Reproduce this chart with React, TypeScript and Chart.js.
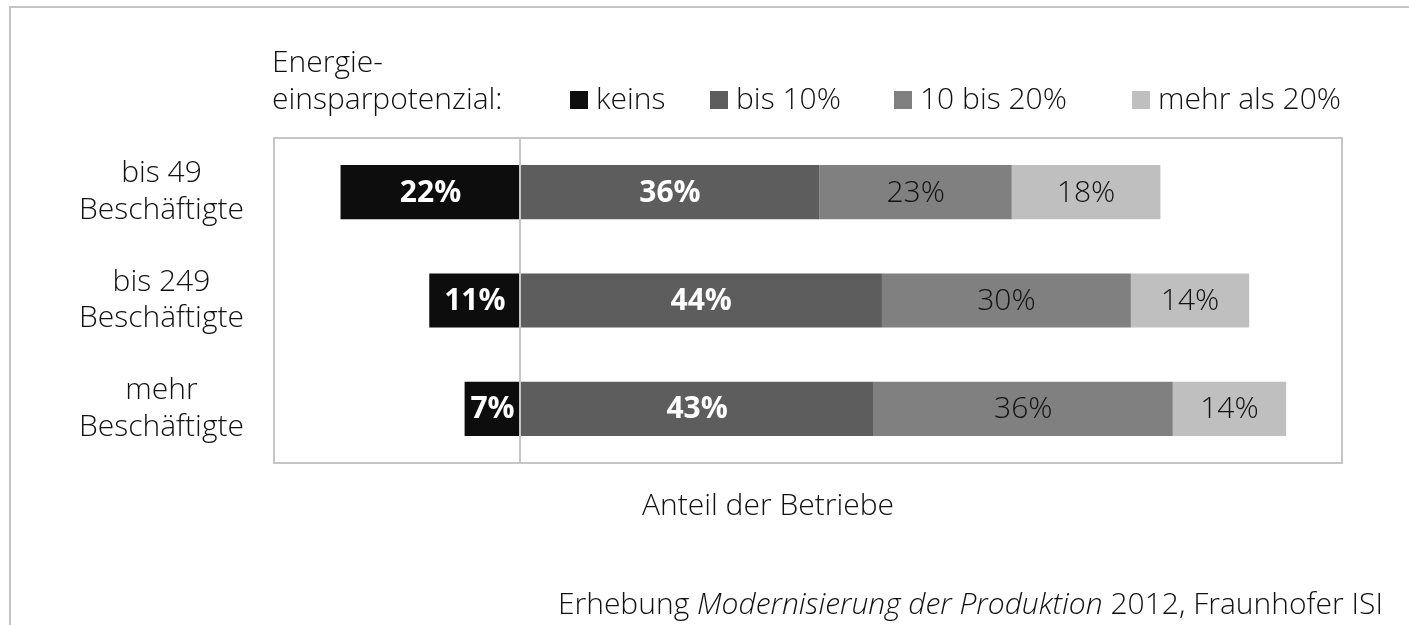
import React, { useEffect, useRef } from "react";
import { Chart, registerables } from "chart.js";

Chart.register(...registerables);

// ---- data ----
const categories: string[][] = [
  ["bis 49", "Beschäftigte"],
  ["bis 249", "Beschäftigte"],
  ["mehr", "Beschäftigte"],
];
const seriesNames = ["keins", "bis 10%", "10 bis 20%", "mehr als 20%"];
const keins = [21.9, 11.1, 6.8];
const bis10 = [36.4, 44.0, 43.0];
const bis20 = [23.4, 30.3, 36.4];
const mehr20 = [18.1, 14.4, 13.8];
const axisMin = -30;
const axisMax = 100;
const legendTitle = ["Energie-", "einsparpotenzial:"];
const xTitle = "Anteil der Betriebe";
const sourceParts = [
  { text: "Erhebung ", italic: false },
  { text: "Modernisierung der Produktion", italic: true },
  { text: " 2012, Fraunhofer ISI", italic: false },
];

// ---- style ----
const COLORS = ["#0d0d0d", "#5d5d5d", "#808080", "#bfbfbf"];
const FONT = '"Open Sans", sans-serif';
const FS = 30;
const W = 350;
const TEXT = "#111111";
const GRAYLINE = "#c6c6c6";
const LEGEND_BOX_X = [570, 710, 894, 1132];

const decoPlugin = {
  id: "deco",
  beforeDraw(chart: any) {
    const ctx = chart.ctx;
    ctx.save();
    ctx.fillStyle = "#ffffff";
    ctx.fillRect(0, 0, chart.width, chart.height);
    ctx.strokeStyle = "#c4c4c4";
    ctx.lineWidth = 2;
    ctx.beginPath();
    ctx.moveTo(10, chart.height + 5);
    ctx.lineTo(10, 7);
    ctx.lineTo(chart.width + 5, 7);
    ctx.stroke();
    ctx.restore();
  },
  afterDatasetsDraw(chart: any) {
    const ctx = chart.ctx;
    const area = chart.chartArea;
    const xs = chart.scales.x;
    ctx.save();
    const x0 = Math.round(xs.getPixelForValue(0));
    ctx.strokeStyle = GRAYLINE;
    ctx.lineWidth = 2;
    ctx.beginPath();
    ctx.moveTo(x0, area.top);
    ctx.lineTo(x0, area.bottom);
    ctx.stroke();
    ctx.strokeRect(area.left, area.top, area.right - area.left, area.bottom - area.top);
    chart.data.datasets.forEach((ds: any, di: number) => {
      const meta = chart.getDatasetMeta(di);
      meta.data.forEach((el: any, i: number) => {
        const v = Math.abs(ds.data[i]);
        const cx = (el.x + el.base) / 2;
        const bold = di < 2;
        ctx.font = `${bold ? "bold" : W} ${FS}px ${FONT}`;
        ctx.fillStyle = bold ? "#ffffff" : TEXT;
        ctx.textAlign = "center";
        ctx.textBaseline = "middle";
        ctx.fillText(Math.round(v) + "%", cx, el.y + 1);
      });
    });
    ctx.restore();
  },
  afterDraw(chart: any) {
    const ctx = chart.ctx;
    ctx.save();
    ctx.fillStyle = TEXT;
    ctx.font = `${W} ${FS}px ${FONT}`;
    ctx.textBaseline = "alphabetic";
    ctx.textAlign = "left";
    ctx.fillText(legendTitle[0], 272, 72);
    ctx.fillText(legendTitle[1], 272, 109);
    chart.data.datasets.forEach((ds: any, di: number) => {
      const bx = LEGEND_BOX_X[di];
      ctx.fillStyle = ds.backgroundColor;
      ctx.fillRect(bx, 91, 18, 18);
      ctx.fillStyle = TEXT;
      ctx.fillText(ds.label, bx + 26, 109);
    });
    ctx.textAlign = "center";
    ctx.fillText(xTitle, 768, 515);
    const widths = sourceParts.map((p) => {
      ctx.font = `${p.italic ? "italic " : ""}${W} ${FS}px ${FONT}`;
      return ctx.measureText(p.text).width;
    });
    const total = widths.reduce((a, b) => a + b, 0);
    let x = 1383 - total;
    ctx.textAlign = "left";
    sourceParts.forEach((p, i) => {
      ctx.font = `${p.italic ? "italic " : ""}${W} ${FS}px ${FONT}`;
      ctx.fillText(p.text, x, 614);
      x += widths[i];
    });
    ctx.restore();
  },
};

export default function App() {
  const ref = useRef<HTMLCanvasElement | null>(null);
  useEffect(() => {
    if (!ref.current) return;
    const values = [keins.map((v) => -v), bis10, bis20, mehr20];
    const chart = new Chart(ref.current, {
      type: "bar",
      data: {
        labels: categories,
        datasets: values.map((d, i) => ({
          label: seriesNames[i],
          data: d,
          backgroundColor: COLORS[i],
          borderWidth: 0,
          barPercentage: 0.5,
          categoryPercentage: 1,
        })),
      },
      options: {
        indexAxis: "y",
        animation: false,
        responsive: false,
        devicePixelRatio: 1,
        layout: { padding: { left: 0, top: 138, right: 67, bottom: 162 } },
        plugins: {
          legend: { display: false },
          tooltip: { enabled: false },
          title: { display: false },
        },
        scales: {
          x: {
            display: false,
            stacked: true,
            min: axisMin,
            max: axisMax,
          },
          y: {
            stacked: true,
            grid: { display: false },
            border: { display: false },
            ticks: {
              crossAlign: "center",
              padding: 22,
              color: TEXT,
              font: { family: FONT, size: FS, weight: W, lineHeight: 1.23 },
            },
            afterFit: (s: any) => {
              s.width = 274;
            },
          },
        },
      },
      plugins: [decoPlugin],
    } as any);
    return () => chart.destroy();
  }, []);
  return (
    <div style={{ position: "absolute", left: 0, top: 0, width: 1409, height: 625 }}>
      <canvas ref={ref} width={1409} height={625} style={{ display: "block" }} />
    </div>
  );
}
